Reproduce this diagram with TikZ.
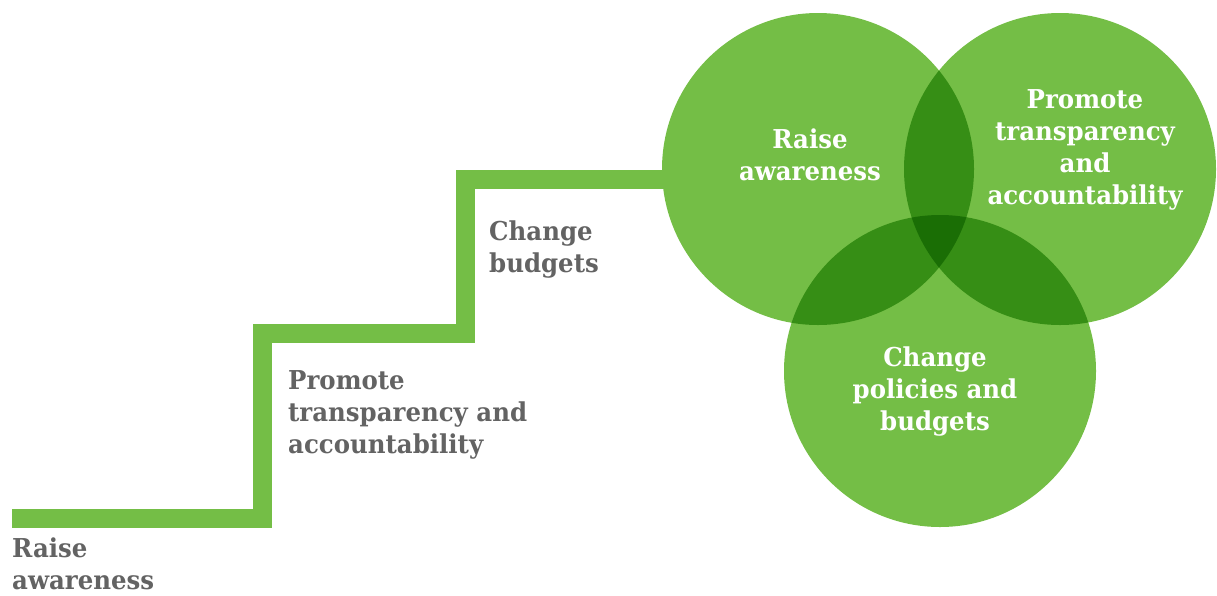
\documentclass[tikz,border=0pt]{standalone}
\usepackage{fontspec}
\setmainfont{DejaVu Serif}[FakeStretch=0.94]
\definecolor{leafgreen}{RGB}{116,190,70}
\definecolor{midgreen}{RGB}{54,142,21}
\definecolor{deepgreen}{RGB}{26,110,5}
\definecolor{labelgray}{RGB}{99,99,99}
\tikzset{
  stairline/.style={draw=leafgreen, line width=19pt, line join=miter, line cap=butt},
  ring/.style={circle, fill=leafgreen, minimum size=312pt, inner sep=0pt},
  steplabel/.style={anchor=base west, inner sep=0pt, align=left, text=labelgray,
    font=\fontsize{26}{32}\selectfont\bfseries},
  ringlabel/.style={inner sep=0pt, align=center, text=white,
    font=\fontsize{26}{32}\selectfont\bfseries},
}
\begin{document}
\begin{tikzpicture}[x=1pt, y=-1pt]
  \useasboundingbox (0,0) rectangle (1217,595);
  % staircase
  \draw[stairline] (12,518.5) -- (262,518.5) -- (262,333) -- (465,333) -- (465,179.5) -- (720,179.5);
  % three overlapping circles
  \node[ring] (aware) at (818,169) {};
  \node[ring] (trans) at (1060,169) {};
  \node[ring] (change) at (940,371) {};
  % pairwise overlaps
  \begin{scope}
    \clip (818,169) circle (156pt);
    \fill[midgreen] (1060,169) circle (156pt);
    \fill[midgreen] (940,371) circle (156pt);
  \end{scope}
  \begin{scope}
    \clip (1060,169) circle (156pt);
    \fill[midgreen] (940,371) circle (156pt);
  \end{scope}
  % triple overlap
  \begin{scope}
    \clip (818,169) circle (156pt);
    \clip (1060,169) circle (156pt);
    \fill[deepgreen] (940,371) circle (156pt);
  \end{scope}
  % labels in the circles
  \node[ringlabel] (awaretext) at (810,155) {Raise\\awareness};
  \node[ringlabel] (transtext) at (1085,150) {Promote\\transparency\\and\\accountability};
  \node[ringlabel] (changetext) at (935,392) {Change\\policies and\\budgets};
  % labels along the staircase
  \node[steplabel] (step1) at (12,589) {Raise\\awareness};
  \node[steplabel] (step2) at (288,453) {Promote\\transparency and\\accountability};
  \node[steplabel] (step3) at (489,272) {Change\\budgets};
\end{tikzpicture}
\end{document}
